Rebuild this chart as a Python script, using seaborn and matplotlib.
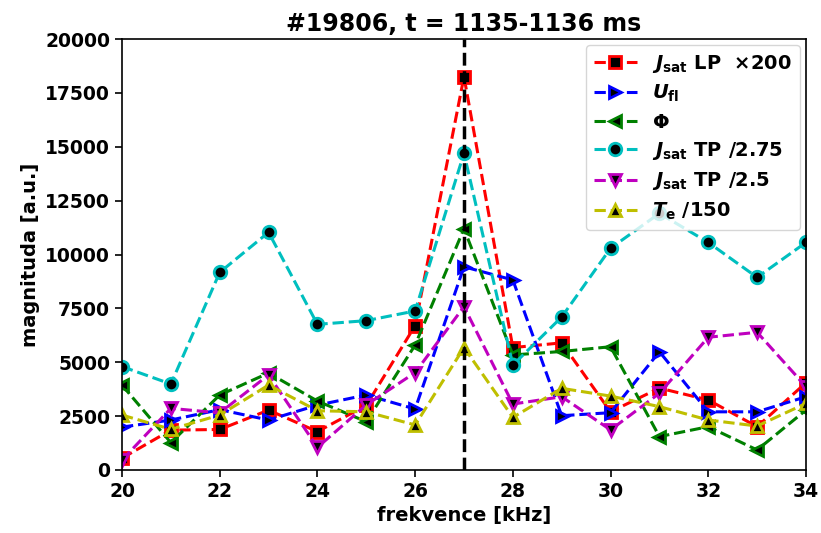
import matplotlib
matplotlib.use("Agg")
import matplotlib.pyplot as plt
import seaborn as sns
import pandas as pd
import numpy as np

freq = [20, 21, 22, 23, 24, 25, 26, 27, 28, 29, 30, 31, 32, 33, 34]

jsat_lp = [550, 1850, 1880, 2780, 1780, 3000, 6700, 18250, 5680, 5900, 2700, 3800, 3250, 2010, 4050]
u_fl = [1990, 2320, 2800, 2320, 3010, 3480, 2830, 9430, 8820, 2520, 2660, 5490, 2700, 2700, 3400]
phi = [3940, 1270, 3480, 4500, 3200, 2240, 5800, 11200, 5340, 5500, 5720, 1550, 2010, 930, 2780]
jsat_tp1 = [4800, 3990, 9170, 11030, 6760, 6930, 7380, 14700, 4870, 7100, 10290, 11910, 10560, 8940, 10560]
jsat_tp2 = [460, 2860, 2650, 4410, 1050, 3020, 4520, 7580, 3060, 3400, 1860, 3560, 6160, 6390, 3870]
te = [2550, 1890, 2550, 3940, 2750, 2700, 2090, 5680, 2440, 3790, 3430, 2940, 2320, 2040, 3090]

labels = [r"$J_{\rm sat}$ LP  $\times$200", r"$U_{\rm fl}$", r"$\Phi$",
          r"$J_{\rm sat}$ TP /2.75", r"$J_{\rm sat}$ TP /2.5", r"$T_{\rm e}$ /150"]
series = [jsat_lp, u_fl, phi, jsat_tp1, jsat_tp2, te]
colors = ["r", "b", "g", "c", "m", "y"]
markers = ["s", ">", "<", "o", "v", "^"]

df = pd.DataFrame({"freq": freq})
for lab, vals in zip(labels, series):
    df[lab] = vals
long = df.melt(id_vars="freq", var_name="signal", value_name="mag")

sns.set_style("ticks")
plt.rcParams["font.family"] = ["DejaVu Sans"]
plt.rcParams["font.weight"] = "bold"
plt.rcParams["text.color"] = "black"
plt.rcParams["axes.labelcolor"] = "black"
plt.rcParams["xtick.color"] = "black"
plt.rcParams["ytick.color"] = "black"
plt.rcParams["axes.edgecolor"] = "black"
plt.rcParams["axes.labelweight"] = "bold"
plt.rcParams["axes.titleweight"] = "bold"
plt.rcParams["mathtext.fontset"] = "custom"
plt.rcParams["mathtext.rm"] = "DejaVu Sans:bold"
plt.rcParams["mathtext.it"] = "DejaVu Sans:italic:bold"
plt.rcParams["mathtext.bf"] = "DejaVu Sans:bold"

fig = plt.figure(figsize=(8.21, 5.33), dpi=100)
ax = fig.add_axes([0.1486, 0.1182, 0.8331, 0.8086])

for lab, c, m in zip(labels, colors, markers):
    sub = long[long["signal"] == lab]
    sns.lineplot(data=sub, x="freq", y="mag", ax=ax, color=c, marker=m,
                 linestyle="--", linewidth=2.2, markersize=9,
                 markerfacecolor="k", markeredgecolor=c, markeredgewidth=2,
                 label=lab)

ax.axvline(27, color="k", linestyle="--", linewidth=2.5)
for ln in ax.lines:
    ln.set_clip_on(True)

ax.set_xlim(20, 34)
ax.set_ylim(0, 20000)
ax.set_xticks([20, 22, 24, 26, 28, 30, 32, 34])
ax.set_yticks(np.arange(0, 20001, 2500))
ax.tick_params(labelsize=13.5, width=1.2, length=5)
for t in ax.get_xticklabels() + ax.get_yticklabels():
    t.set_fontweight("bold")
for s in ax.spines.values():
    s.set_linewidth(1.2)
    s.set_visible(True)

ax.set_xlabel("frekvence [kHz]", fontsize=14)
ax.set_ylabel("magnituda [a.u.]", fontsize=14)
ax.set_title("#19806, t = 1135-1136 ms", fontsize=17)
ax.legend(loc="upper right", fontsize=14, handlelength=2.2, borderaxespad=0.3,
          labelspacing=0.43)

fig.savefig("out.png", dpi=100)
